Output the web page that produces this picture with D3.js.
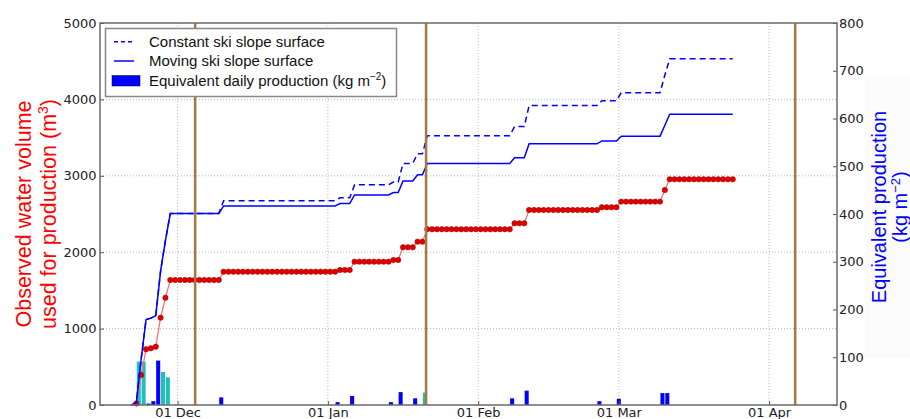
<!DOCTYPE html>
<html>
<head>
<meta charset="utf-8">
<script src="https://cdn.jsdelivr.net/npm/d3@7"></script>
<style>
body { margin: 0; background: #fff; }
svg { display: block; }
</style>
</head>
<body>
<svg></svg>
<script>
const width = 910;
const height = 419;
const margin = {left: 100, right: 837, top: 23, bottom: 405};

// observed water volume (m3), one value a day from 22 Nov 2011
const volumeStart = "2011-11-22";
const volume = [
  20, 393, 729, 742, 763, 1143, 1404,                                     // 22-28 Nov
  1636, 1636, 1636, 1636, 1636, 1636, 1636, 1636, 1636, 1636, 1636,       // 29 Nov - 9 Dec
  1745, 1745, 1745, 1745, 1745, 1745, 1745, 1745, 1745, 1745, 1745, 1745, // 10-21 Dec
  1745, 1745, 1745, 1745, 1745, 1745, 1745, 1745, 1745, 1745, 1745, 1745, // 22 Dec - 2 Jan
  1767, 1767, 1767,                                                       // 3-5 Jan
  1876, 1876, 1876, 1876, 1876, 1876, 1876, 1876,                         // 6-13 Jan
  1898, 1898,                                                             // 14-15 Jan
  2064, 2064, 2064,                                                       // 16-18 Jan
  2138, 2138,                                                             // 19-20 Jan
  2300, 2300, 2300, 2300, 2300, 2300, 2300, 2300, 2300,                   // 21-29 Jan
  2300, 2300, 2300, 2300, 2300, 2300, 2300, 2300, 2300,                   // 30 Jan - 7 Feb
  2378, 2378, 2378,                                                       // 8-10 Feb
  2552, 2552, 2552, 2552, 2552, 2552, 2552, 2552,                         // 11-18 Feb
  2552, 2552, 2552, 2552, 2552, 2552, 2552,                               // 19-25 Feb
  2588, 2588, 2588, 2588,                                                 // 26-29 Feb
  2662, 2662, 2662, 2662, 2662, 2662, 2662, 2662, 2662,                   // 1-9 Mar
  2814,                                                                   // 10 Mar
  2954, 2954, 2954, 2954, 2954, 2954, 2954,                               // 11-17 Mar
  2954, 2954, 2954, 2954, 2954, 2954, 2954                                // 18-24 Mar
];

// equivalent production (kg m-2), one value a day from 21 Nov 2011
const surfaceStart = "2011-11-21";
const constantSurface = [
  0, 5, 97, 179, 182, 187, 281, 345,
  401, 401, 401, 401, 401, 401, 401, 401, 401, 401, 401,
  428, 428, 428, 428, 428, 428, 428, 428, 428, 428, 428, 428,
  428, 428, 428, 428, 428, 428, 428, 428, 428, 428, 428, 428,
  434, 434, 434,
  461, 461, 461, 461, 461, 461, 461, 461,
  467, 467,
  506, 506, 506,
  526, 526,
  564, 564, 564, 564, 564, 564, 564, 564, 564,
  564, 564, 564, 564, 564, 564, 564, 564, 564,
  583, 583, 583,
  627, 627, 627, 627, 627, 627, 627, 627,
  627, 627, 627, 627, 627, 627, 627,
  637, 637, 637, 637,
  654, 654, 654, 654, 654, 654, 654, 654, 654,
  691,
  725, 725, 725, 725, 725, 725, 725,
  725, 725, 725, 725, 725, 725, 725
];
const movingSurface = [
  0, 5, 97, 179, 182, 187, 281, 345,
  401, 401, 401, 401, 401, 401, 401, 401, 401, 401, 401,
  417, 417, 417, 417, 417, 417, 417, 417, 417, 417, 417, 417,
  417, 417, 417, 417, 417, 417, 417, 417, 417, 417, 417, 417,
  422, 422, 422,
  440, 440, 440, 440, 440, 440, 440, 440,
  445, 445,
  469, 469, 469,
  482, 482,
  506, 506, 506, 506, 506, 506, 506, 506, 506,
  506, 506, 506, 506, 506, 506, 506, 506, 506,
  518, 518, 518,
  547, 547, 547, 547, 547, 547, 547, 547,
  547, 547, 547, 547, 547, 547, 547,
  553, 553, 553, 553,
  563, 563, 563, 563, 563, 563, 563, 563, 563,
  586,
  609, 609, 609, 609, 609, 609, 609,
  609, 609, 609, 609, 609, 609, 609
];

// equivalent daily production bars (kg m-2)
const barDates = ["2011-11-22", "2011-11-23", "2011-11-24", "2011-11-25", "2011-11-26", "2011-11-27",
  "2011-11-28", "2011-11-29", "2011-12-10", "2012-01-03", "2012-01-06", "2012-01-14", "2012-01-16",
  "2012-01-19", "2012-01-21", "2012-02-08", "2012-02-11", "2012-02-26", "2012-03-01", "2012-03-10",
  "2012-03-11"];
const barValues = [2, 91, 91, 3, 8, 93, 69, 58, 16, 6, 19, 6, 27, 14, 26, 14, 30, 8, 13, 25, 25];
const barKinds = ["b", "c", "c", "b", "b", "b", "c", "c", "b", "b", "b", "b", "b", "b", "c",
  "b", "b", "b", "b", "b", "b"];

const eventDates = ["2011-12-04T15:00", "2012-01-21T06:00", "2012-04-06T09:00"];

const monthTicks = ["2011-12-01", "2012-01-01", "2012-02-01", "2012-03-01", "2012-04-01"];
const monthLabels = ["01 Dec", "01 Jan", "01 Feb", "01 Mar", "01 Apr"];
const leftTicks = [0, 1000, 2000, 3000, 4000, 5000];
const rightTicks = [0, 100, 200, 300, 400, 500, 600, 700, 800];

const parseDay = d3.utcParse("%Y-%m-%d");
const parseTime = d3.utcParse("%Y-%m-%dT%H:%M");

const x = d3.scaleUtc()
  .domain([parseDay("2011-11-15"), parseDay("2012-04-15")])
  .range([margin.left, margin.right]);

const yLeft = d3.scaleLinear()
  .domain([0, 5000])
  .range([margin.bottom, margin.top]);

const yRight = d3.scaleLinear()
  .domain([0, 800])
  .range([margin.bottom, margin.top]);

const daily = (start, values) => values.map((v, i) => ({
  date: d3.utcHour.offset(d3.utcDay.offset(parseDay(start), i), 12),
  value: v
}));

const volumeData = daily(volumeStart, volume);
const constantData = daily(surfaceStart, constantSurface);
const movingData = daily(surfaceStart, movingSurface);

const bars = barDates.map((d, i) => ({date: parseDay(d), value: barValues[i], kind: barKinds[i]}));

const svg = d3.select("svg")
  .attr("width", width)
  .attr("height", height)
  .style("font-family", "'DejaVu Sans', sans-serif");

// faint box behind the right label
svg.append("rect")
  .attr("x", 865).attr("y", 77)
  .attr("width", 45).attr("height", 281)
  .attr("fill", "#fbfbfb");

// grid
svg.append("g")
  .selectAll("line")
  .data(monthTicks)
  .join("line")
  .attr("x1", d => x(parseDay(d)))
  .attr("x2", d => x(parseDay(d)))
  .attr("y1", margin.top)
  .attr("y2", margin.bottom)
  .attr("stroke", "#b8b8b8")
  .attr("stroke-dasharray", "1,2");

svg.append("g")
  .selectAll("line")
  .data(leftTicks.slice(1, -1))
  .join("line")
  .attr("x1", margin.left)
  .attr("x2", margin.right)
  .attr("y1", d => yLeft(d))
  .attr("y2", d => yLeft(d))
  .attr("stroke", "#b8b8b8")
  .attr("stroke-dasharray", "1,2");

// bars
const barW = x(parseTime("2011-11-15T20:00")) - x(parseDay("2011-11-15"));
svg.append("g")
  .selectAll("rect")
  .data(bars)
  .join("rect")
  .attr("x", d => x(d.date) - barW / 2)
  .attr("width", barW)
  .attr("y", d => yRight(d.value))
  .attr("height", d => yRight(0) - yRight(d.value))
  .attr("fill", d => d.kind === "c" ? "#1fbfbf" : "#0000ff");

// red observed volume
svg.append("path")
  .datum(volumeData)
  .attr("fill", "none")
  .attr("stroke", "#ff6a6a")
  .attr("stroke-width", 1.2)
  .attr("d", d3.line().x(d => x(d.date)).y(d => yLeft(d.value)));

svg.append("g")
  .selectAll("circle")
  .data(volumeData)
  .join("circle")
  .attr("cx", d => x(d.date))
  .attr("cy", d => yLeft(d.value))
  .attr("r", 2.7)
  .attr("fill", "#e00000")
  .attr("stroke", "#a00000")
  .attr("stroke-width", 0.5);

// blue lines
const blueLine = d3.line().x(d => x(d.date)).y(d => yRight(d.value));

svg.append("path")
  .datum(constantData)
  .attr("fill", "none")
  .attr("stroke", "#0000ff")
  .attr("stroke-width", 1.5)
  .attr("stroke-dasharray", "6,4")
  .attr("d", blueLine);

svg.append("path")
  .datum(movingData)
  .attr("fill", "none")
  .attr("stroke", "#0000ff")
  .attr("stroke-width", 1.5)
  .attr("d", blueLine);

// brown event lines
svg.append("g")
  .selectAll("line")
  .data(eventDates)
  .join("line")
  .attr("x1", d => x(parseTime(d)))
  .attr("x2", d => x(parseTime(d)))
  .attr("y1", margin.top)
  .attr("y2", margin.bottom)
  .attr("stroke", "#a87840")
  .attr("stroke-width", 2.5);

// axes
const xAxis = d3.axisBottom(x)
  .tickValues(monthTicks.map(parseDay))
  .tickFormat((d, i) => monthLabels[i])
  .tickSize(-4)
  .tickPadding(2.5);

const gx = svg.append("g")
  .attr("transform", `translate(0,${margin.bottom})`)
  .call(xAxis);

const gl = svg.append("g")
  .attr("transform", `translate(${margin.left},0)`)
  .call(d3.axisLeft(yLeft).tickValues(leftTicks).tickFormat(d3.format("d")).tickSize(-4).tickPadding(3.5));

const gr = svg.append("g")
  .attr("transform", `translate(${margin.right},0)`)
  .call(d3.axisRight(yRight).tickValues(rightTicks).tickFormat(d3.format("d")).tickSize(-4).tickPadding(2));

[gx, gl, gr].forEach(g => {
  g.select(".domain").remove();
  g.selectAll(".tick line").attr("stroke", "#555");
  g.selectAll(".tick text")
    .attr("fill", "#222")
    .style("font-family", "'DejaVu Sans', sans-serif")
    .style("font-size", "13px");
});

// frame
svg.append("rect")
  .attr("x", margin.left)
  .attr("y", margin.top)
  .attr("width", margin.right - margin.left)
  .attr("height", margin.bottom - margin.top)
  .attr("fill", "none")
  .attr("stroke", "#6a6a6a")
  .attr("stroke-width", 1.5);

// axis labels
const labelFont = "'Liberation Sans', Arial, sans-serif";

svg.append("text")
  .attr("transform", "translate(31,214) rotate(-90)")
  .attr("text-anchor", "middle")
  .attr("fill", "#ff0000")
  .style("font-family", labelFont)
  .style("font-size", "21.5px")
  .text("Observed water volume");

const l2 = svg.append("text")
  .attr("transform", "translate(56,214) rotate(-90)")
  .attr("text-anchor", "middle")
  .attr("fill", "#ff0000")
  .style("font-family", labelFont)
  .style("font-size", "21.5px");
l2.append("tspan").text("used for production (m");
l2.append("tspan").attr("dy", -8).style("font-size", "14px").text("3");
l2.append("tspan").attr("dy", 8).text(")");

svg.append("text")
  .attr("transform", "translate(886,207) rotate(-90)")
  .attr("text-anchor", "middle")
  .attr("fill", "#0000ff")
  .style("font-family", labelFont)
  .style("font-size", "20px")
  .text("Equivalent production");

const r2 = svg.append("text")
  .attr("transform", "translate(907,207) rotate(-90)")
  .attr("text-anchor", "middle")
  .attr("fill", "#0000ff")
  .style("font-family", labelFont)
  .style("font-size", "20px");
r2.append("tspan").text("(kg m");
r2.append("tspan").attr("dy", -7).style("font-size", "13px").text("\u22122");
r2.append("tspan").attr("dy", 7).text(")");

// legend
const legend = svg.append("g");
legend.append("rect")
  .attr("x", 105.5).attr("y", 28.5)
  .attr("width", 291).attr("height", 68)
  .attr("fill", "#fff")
  .attr("stroke", "#888")
  .attr("stroke-width", 1.5);

legend.append("line")
  .attr("x1", 114).attr("x2", 134).attr("y1", 41.7).attr("y2", 41.7)
  .attr("stroke", "#0000ff").attr("stroke-width", 1.5).attr("stroke-dasharray", "4,3");
legend.append("line")
  .attr("x1", 114).attr("x2", 134).attr("y1", 61).attr("y2", 61)
  .attr("stroke", "#0000ff").attr("stroke-width", 1.5);
legend.append("rect")
  .attr("x", 112).attr("y", 75.5).attr("width", 28).attr("height", 10.5)
  .attr("fill", "#0000ff").attr("stroke", "#000").attr("stroke-width", 0.5);

const legendText = ["Constant ski slope surface", "Moving ski slope surface", "Equivalent daily production (kg m"];
const legendY = [46.9, 66.2, 85.9];
legend.selectAll("text.item")
  .data(legendText)
  .join("text")
  .attr("class", "item")
  .attr("x", 149)
  .attr("y", (d, i) => legendY[i])
  .attr("fill", "#111")
  .style("font-family", labelFont)
  .style("font-size", "15px")
  .each(function(d, i) {
    const t = d3.select(this);
    t.append("tspan").text(d);
    if (i === 2) {
      t.append("tspan").attr("dy", -6).style("font-size", "10px").text("\u22122");
      t.append("tspan").attr("dy", 6).text(")");
    }
  });
</script>
</body>
</html>
